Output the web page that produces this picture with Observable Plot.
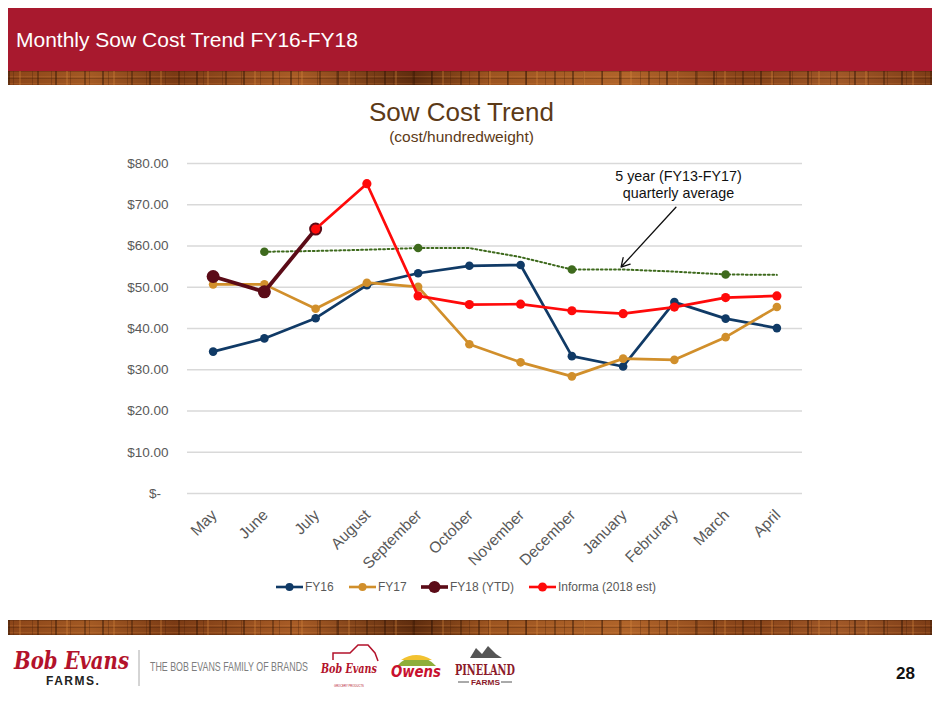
<!DOCTYPE html>
<html>
<head>
<meta charset="utf-8">
<script src="https://cdn.jsdelivr.net/npm/d3@7"></script>
<script src="https://cdn.jsdelivr.net/npm/@observablehq/plot@0.6"></script>
<style>
  html, body { margin: 0; padding: 0; background: #fff; }
  body { width: 940px; height: 705px; position: relative; overflow: hidden; font-family: "Liberation Sans", Arial, sans-serif; }
  .header { position: absolute; left: 8px; top: 8px; width: 924px; height: 63px; background: #a8192e; }
  .header span { position: absolute; left: 8px; top: 20px; color: #fff; font-size: 21px; }
  .wood { position: absolute; left: 8px; width: 924px;
    background:
      repeating-linear-gradient(90deg, rgba(45,18,4,.45) 0 2px, transparent 2px 11px, rgba(215,135,60,.3) 11px 13px, transparent 13px 29px, rgba(40,15,0,.35) 29px 31px, transparent 31px 47px),
      repeating-linear-gradient(90deg, transparent 0 5px, rgba(70,30,8,.3) 5px 6px, transparent 6px 19px),
      repeating-linear-gradient(180deg, rgba(60,25,5,.3) 0 1px, transparent 1px 5px, rgba(220,140,70,.2) 5px 6px, transparent 6px 7px),
      linear-gradient(90deg, #8a4418, #a35a24 9%, #7a3a14 18%, #a85c26 31%, #5e2c0e 44%, #9c5420 52%, #b0642a 67%, #864218 80%, #a05828 90%, #7c3c16); }
  .ctitle { position: absolute; left: 0; width: 923px; text-align: center; color: #5c3a17; line-height: 1.15; }
  #chart { position: absolute; left: 0; top: 150px; }
  .legend { position: absolute; top: 578px; left: 0; width: 940px; height: 18px; }
  .legend .item { position: absolute; top: 0; height: 18px; display: flex; align-items: center; font-size: 12px; color: #595959; }
  .legend svg { display: block; }
  .pagenum { position: absolute; left: 896px; top: 664px; font-size: 17px; font-weight: bold; color: #111; }
</style>
</head>
<body>
<div class="header"><span>Monthly Sow Cost Trend FY16-FY18</span></div>
<div class="wood" style="top:71px;height:14px;"></div>
<div class="ctitle" style="top:98px;font-size:26px;">Sow Cost Trend</div>
<div class="ctitle" style="top:128px;font-size:15.5px;">(cost/hundredweight)</div>
<div id="chart"></div>
<div class="legend" id="legend"></div>
<div class="wood" style="top:620px;height:15px;"></div>
<svg id="footer" style="position:absolute;left:0;top:640px" width="560" height="62">
  <text data-x="14" data-y="29" data-w="115" font-family="DejaVu Serif" font-style="italic" font-weight="bold" font-size="25" fill="#b3122b">Bob Evans</text>
  <text x="46" y="45" font-family="Liberation Sans" font-weight="bold" font-size="12" fill="#222" letter-spacing="1.5">FARMS.</text>
  <line x1="139" y1="10" x2="139" y2="46" stroke="#aaa" stroke-width="1"/>
  <text data-x="150" data-y="31" data-w="158" font-family="Liberation Sans" font-size="12.5" fill="#7d7d7d">THE BOB EVANS FAMILY OF BRANDS</text>
  <path d="M333 20 L333 13 L350 13 L358 5 L368 5 L375 13 L378 21" fill="none" stroke="#b3122b" stroke-width="1.5"/>
  <text data-x="321" data-y="33" data-w="56" font-family="DejaVu Serif" font-style="italic" font-weight="bold" font-size="13" fill="#b3122b">Bob Evans</text>
  <text data-x="334" data-y="47" data-w="30" font-family="Liberation Sans" font-size="4" fill="#b3122b">GROCERY PRODUCTS</text>
  <path d="M397 26 Q416 6 436 26 Z" fill="#8fae3a"/>
  <path d="M401 20 Q416 10 432 20 Z" fill="#f2c230"/>
  <text data-x="391" data-y="37" data-w="50" font-family="DejaVu Sans" font-style="italic" font-weight="bold" font-size="15" fill="#c8102e">Owens</text>
  <path d="M470 18 L476 8 L482 14 L488 6 L496 14 L502 18 Z" fill="#555"/>
  <text data-x="455" data-y="35" data-w="60" font-family="DejaVu Serif" font-weight="bold" font-size="15" fill="#8c1a2a">PINELAND</text>
  <line x1="458" y1="42" x2="469" y2="42" stroke="#555" stroke-width="1"/>
  <line x1="501" y1="42" x2="512" y2="42" stroke="#555" stroke-width="1"/>
  <text data-x="471" data-y="45" data-w="29" font-family="Liberation Sans" font-weight="bold" font-size="8" fill="#8c1a2a">FARMS</text>
</svg>
<div class="pagenum">28</div>
<script>
// ---- data ----
const months = ["May", "June", "July", "August", "September", "October", "November", "December", "January", "Februrary", "March", "April"];
const fy16 = [34.4, 37.6, 42.5, 50.5, 53.4, 55.2, 55.4, 33.3, 30.8, 46.4, 42.4, 40.1];
const fy17 = [50.7, 50.7, 44.8, 51.1, 50.1, 36.2, 31.8, 28.4, 32.7, 32.4, 37.9, 45.2];
const fy18 = [52.6, 48.9, 64.1, null, null, null, null, null, null, null, null, null];
const informa = [null, null, 64.1, 75.1, 47.9, 45.8, 45.9, 44.3, 43.6, 45.2, 47.5, 47.9];
const avg5yr = [null, 58.6, 58.8, 59.1, 59.5, 59.5, 57.3, 54.3, 54.3, 53.8, 53.1, 53.0];
const avgQuarterMonths = ["June", "September", "December", "March"];
const yTicks = [0, 10, 20, 30, 40, 50, 60, 70, 80];
const seriesNames = ["FY16", "FY17", "FY18 (YTD)", "Informa (2018 est)"];
const annotationText = "5 year (FY13-FY17)\nquarterly average";

// ---- helpers ----
const rows = arr => arr.map((v, i) => ({i, v})).filter(d => d.v != null);
const avgMarkers = rows(avg5yr).filter(d => avgQuarterMonths.includes(months[d.i]));

const C = {fy16: "#103a66", fy17: "#d18f2b", fy18: "#5b0b17", informa: "#ff0a0a", avg: "#3e6a1d"};

// annotation anchored in data space (month index, $)
const note = {x: 9.08, y: 75.0, ax1: 9.03, ay1: 69.4, ax2: 7.96, ay2: 54.9};

const plot = Plot.plot({
  width: 940,
  height: 430,
  marginLeft: 187,
  marginRight: 138,
  marginTop: 13,
  marginBottom: 87,
  style: {fontFamily: "Liberation Sans, Arial, sans-serif", fontSize: "13.5px", color: "#595959", background: "transparent", overflow: "visible"},
  x: {domain: [-0.5, months.length - 0.5]},
  y: {domain: [0, 80]},
  marks: [
    Plot.gridY(yTicks, {stroke: "#d9d9d9", strokeOpacity: 1, strokeWidth: 1.3}),
    Plot.axisY(yTicks, {tickSize: 0, tickPadding: 19, label: null,
      tickFormat: d => d === 0 ? "$-\u2007" : "$" + d.toFixed(2), fontSize: 13.5}),
    Plot.axisX(d3.range(months.length), {tickSize: 0, tickPadding: 19, tickRotate: -45, label: null,
      tickFormat: i => months[i], fontSize: 15.5, dx: 1}),
    Plot.line(rows(avg5yr), {x: "i", y: "v", stroke: C.avg, strokeWidth: 2, strokeDasharray: "1.8,2.6"}),
    Plot.dot(avgMarkers, {x: "i", y: "v", fill: C.avg, r: 4.3}),
    Plot.line(rows(fy16), {x: "i", y: "v", stroke: C.fy16, strokeWidth: 2.7}),
    Plot.dot(rows(fy16), {x: "i", y: "v", fill: C.fy16, r: 4.3}),
    Plot.line(rows(fy17), {x: "i", y: "v", stroke: C.fy17, strokeWidth: 2.7}),
    Plot.dot(rows(fy17), {x: "i", y: "v", fill: C.fy17, r: 4.3}),
    Plot.line(rows(fy18), {x: "i", y: "v", stroke: C.fy18, strokeWidth: 3.8}),
    Plot.dot(rows(fy18), {x: "i", y: "v", fill: C.fy18, r: 6.5}),
    Plot.line(rows(informa), {x: "i", y: "v", stroke: C.informa, strokeWidth: 2.7}),
    Plot.dot(rows(informa), {x: "i", y: "v", fill: C.informa, r: 4.6}),
    Plot.text([annotationText], {x: () => note.x, y: () => note.y, text: d => d, fill: "#111", fontSize: 14.3, lineHeight: 1.15, lineAnchor: "middle", textAnchor: "middle"}),
    Plot.arrow([note], {x1: "ax1", y1: "ay1", x2: "ax2", y2: "ay2", stroke: "#111", strokeWidth: 1.3, headLength: 11})
  ]
});
document.getElementById("chart").appendChild(plot);

// ---- legend ----
const legendDefs = [
  {name: seriesNames[0], color: C.fy16, r: 4, w: 2.6, left: 275},
  {name: seriesNames[1], color: C.fy17, r: 4, w: 2.6, left: 348},
  {name: seriesNames[2], color: C.fy18, r: 6, w: 3.6, left: 420},
  {name: seriesNames[3], color: C.informa, r: 4.5, w: 2.6, left: 528}
];
const lg = document.getElementById("legend");
for (const d of legendDefs) {
  const item = document.createElement("div");
  item.className = "item";
  item.style.left = d.left + "px";
  item.innerHTML = `<svg width="29" height="18"><line x1="1" y1="9" x2="28" y2="9" stroke="${d.color}" stroke-width="${d.w}"/><circle cx="14.5" cy="9" r="${d.r}" fill="${d.color}"/></svg><span style="margin-left:1px">${d.name}</span>`;
  lg.appendChild(item);
}

// ---- footer brand wordmarks: squeeze each text to its target width ----
document.querySelectorAll("#footer text[data-w]").forEach(t => {
  const len = t.getComputedTextLength() || 1;
  const s = (+t.dataset.w) / len;
  t.setAttribute("transform", `translate(${t.dataset.x},${t.dataset.y}) scale(${s},1)`);
});
</script>
</body>
</html>
